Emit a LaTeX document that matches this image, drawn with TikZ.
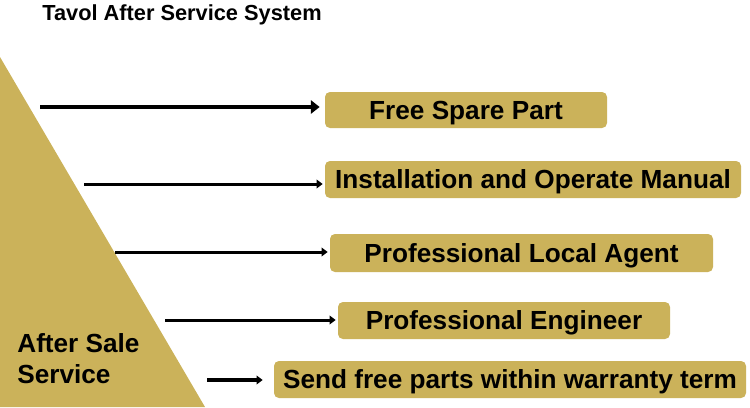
\documentclass[tikz,border=0pt]{standalone}
\usepackage{fontspec}
\setmainfont{Liberation Sans}
\usetikzlibrary{arrows.meta}
\definecolor{gold}{RGB}{203,178,90}
\begin{document}
\begin{tikzpicture}[
    x=0.02cm, y=-0.02cm,
    item/.style={fill=gold, rounded corners=2.8pt, inner sep=0pt, text height=10.7pt, text depth=0pt, font=\bfseries\fontsize{14.9}{17}\selectfont},
    link/.style={-{Triangle[length=3.5pt, width=5pt]}, line width=1.7pt, shorten >=2*0.02cm}
]
    \useasboundingbox (0,0) rectangle (750,407);

    % Title
    \node[anchor=base west, inner sep=0pt, font=\bfseries\fontsize{12.4}{14}\selectfont] (title) at (42,20) {Tavol After Service System};

    % Triangle
    \fill[gold] (0,57) -- (205,407) -- (0,407) -- cycle;
    \node[anchor=base west, align=left, inner sep=0pt, font=\bfseries\fontsize{14.9}{17.6}\selectfont] (sale) at (17,383) {After Sale\\Service};

    % Boxes
    \node[item, minimum width=282*0.02cm, minimum height=36*0.02cm] (spare) at (466,110) {Free Spare Part};
    \node[item, minimum width=416*0.02cm, minimum height=37*0.02cm] (manual) at (533,179.5) {Installation and Operate Manual};
    \node[item, minimum width=383*0.02cm, minimum height=38*0.02cm] (agent) at (521.5,253) {Professional Local Agent};
    \node[item, minimum width=332*0.02cm, minimum height=37*0.02cm] (engineer) at (504,320.5) {Professional Engineer\hspace{0.4cm}};
    \node[item, minimum width=472*0.02cm, minimum height=37*0.02cm] (parts) at (510,379.5) {Send free parts within warranty term};

    % Arrows
    \coordinate (s1) at (40,107);
    \coordinate (s2) at (84,184);
    \coordinate (s3) at (115,252);
    \coordinate (s4) at (165,320);
    \coordinate (s5) at (207,380);
    \draw[link, -{Triangle[length=5pt, width=7.5pt]}, line width=2.6pt, shorten >=5*0.02cm] (s1) -- (s1 -| spare.west);
    \draw[link] (s2) -- (s2 -| manual.west);
    \draw[link] (s3) -- (s3 -| agent.west);
    \draw[link] (s4) -- (s4 -| engineer.west);
    \draw[link, line width=2pt, shorten >=11*0.02cm] (s5) -- (s5 -| parts.west);
\end{tikzpicture}
\end{document}
